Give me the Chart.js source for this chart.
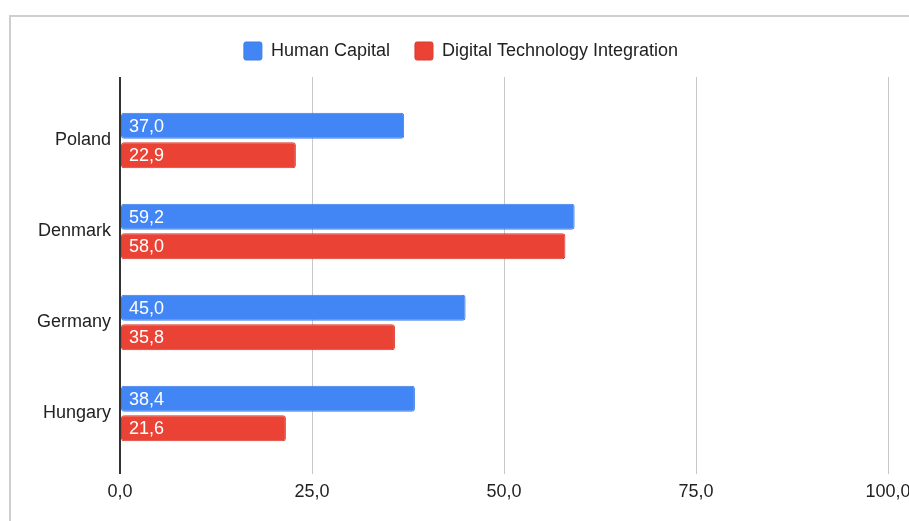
<!DOCTYPE html>
<html>
<head>
<meta charset="utf-8">
<script src="https://cdn.jsdelivr.net/npm/chart.js@4/dist/chart.umd.min.js"></script>
<style>
    html, body { margin: 0; padding: 0; background: #fff; overflow: hidden; }
    #frame {
        position: absolute; left: 9px; top: 15px;
        width: 1000px; height: 600px;
        border: 2px solid #cfcfcf;
    }
    #wrap { position: absolute; left: 0; top: 0; width: 909px; height: 521px; }
</style>
</head>
<body>
<div id="frame"></div>
<div id="wrap"><canvas id="indexChart"></canvas></div>
<script>
const countries = ['Poland', 'Denmark', 'Germany', 'Hungary'];
const humanCapital = [37.0, 59.2, 45.0, 38.4];
const digitalIntegration = [22.9, 58.0, 35.8, 21.6];
const axisTicks = [0, 25, 50, 75, 100];

const fmt = v => v.toFixed(1).replace('.', ',');
const FONT = "'Liberation Sans', Arial, sans-serif";

// gridline colour: dark zero line, light grey for the rest
const gridColor = ctx => (ctx.tick && ctx.tick.value === 0 ? '#333333' : '#c8c8c8');
const gridWidth = ctx => (ctx.tick && ctx.tick.value === 0 ? 2 : 1);

// white value text at the start of each bar
const barLabels = {
    id: 'barLabels',
    afterDatasetsDraw(chart) {
        const { ctx } = chart;
        ctx.save();
        ctx.font = `18px ${FONT}`;
        ctx.fillStyle = '#ffffff';
        ctx.textAlign = 'left';
        ctx.textBaseline = 'middle';
        chart.data.datasets.forEach((ds, i) => {
            chart.getDatasetMeta(i).data.forEach((bar, j) => {
                ctx.fillText(fmt(ds.data[j]), bar.base + 8, bar.y + 1);
            });
        });
        ctx.restore();
    }
};

new Chart(document.getElementById('indexChart'), {
    type: 'bar',
    data: {
        labels: countries,
        datasets: [
            {
                label: 'Human Capital',
                data: humanCapital,
                backgroundColor: '#4285f4',
                borderColor: '#3d7de8',
                borderWidth: 1,
                borderRadius: 3,
                borderSkipped: false,
                categoryPercentage: 0.65,
                barPercentage: 0.88
            },
            {
                label: 'Digital Technology Integration',
                data: digitalIntegration,
                backgroundColor: '#ea4335',
                borderColor: '#d93a2d',
                borderWidth: 1,
                borderRadius: 3,
                borderSkipped: false,
                categoryPercentage: 0.65,
                barPercentage: 0.88
            }
        ]
    },
    options: {
        indexAxis: 'y',
        responsive: true,
        maintainAspectRatio: false,
        animation: false,
        layout: { padding: { top: 17, left: 34, right: 21, bottom: 0 } },
        plugins: {
            tooltip: { enabled: false },
            legend: {
                position: 'top',
                labels: {
                    font: { family: FONT, size: 18 },
                    color: '#222222',
                    boxWidth: 18,
                    boxHeight: 18,
                    padding: 25,
                    useBorderRadius: true,
                    borderRadius: 2
                }
            }
        },
        scales: {
            x: {
                type: 'linear',
                position: 'bottom',
                min: 0,
                max: 100,
                afterBuildTicks: s => { s.ticks = axisTicks.map(v => ({ value: v })); },
                afterFit: s => { s.height = 62; s.paddingLeft = 0; s.paddingRight = 0; },
                border: { display: false },
                grid: { color: gridColor, lineWidth: gridWidth, tickLength: 15 },
                ticks: {
                    font: { family: FONT, size: 18 },
                    color: '#222222',
                    padding: 7,
                    maxRotation: 0,
                    callback: v => fmt(v)
                }
            },
            xTop: {
                type: 'linear',
                axis: 'x',
                position: 'top',
                min: 0,
                max: 100,
                afterBuildTicks: s => { s.ticks = axisTicks.map(v => ({ value: v })); },
                afterFit: s => { s.height = 25; s.paddingLeft = 0; s.paddingRight = 0; },
                border: { display: false },
                grid: { drawOnChartArea: false, color: gridColor, lineWidth: gridWidth, tickLength: 18 },
                ticks: { display: false }
            },
            y: {
                afterFit: s => { s.width = 86; },
                border: { display: false },
                grid: { display: false, drawTicks: false },
                ticks: {
                    font: { family: FONT, size: 18 },
                    color: '#222222',
                    padding: 9
                }
            }
        }
    },
    plugins: [barLabels]
});
</script>
</body>
</html>
